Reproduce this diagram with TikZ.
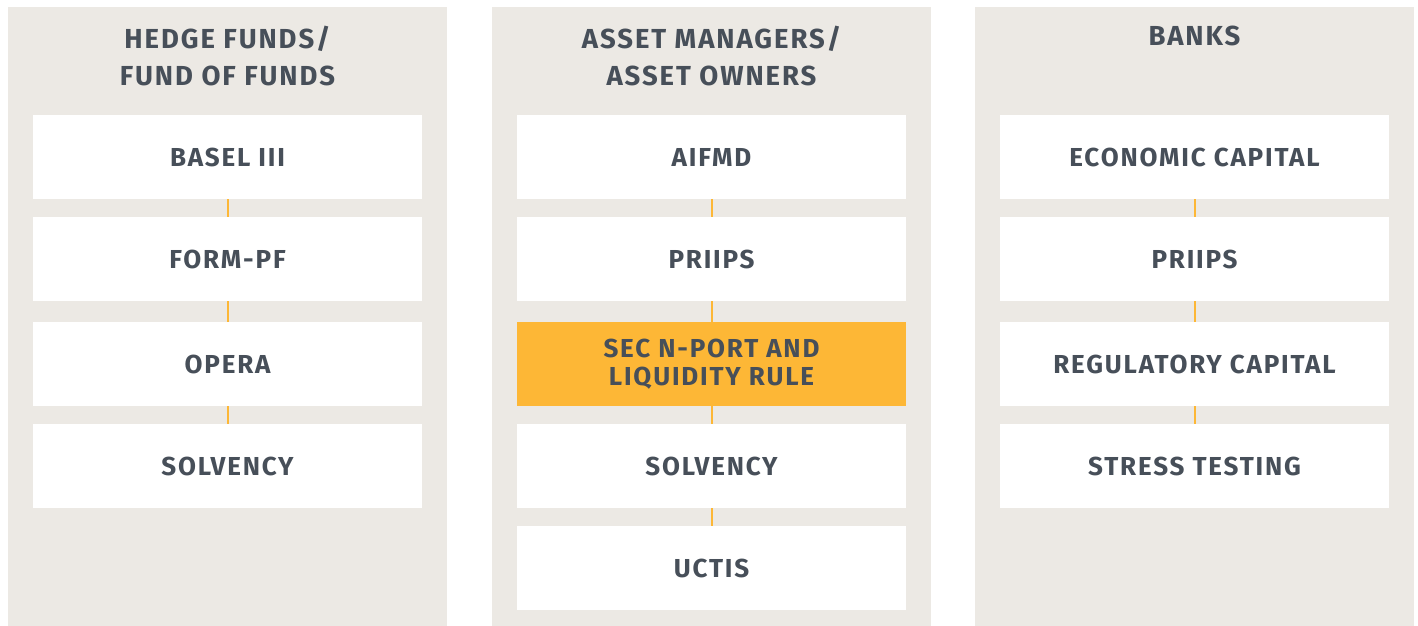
\documentclass[tikz,border=0pt]{standalone}
\usepackage{fontspec}
\newfontfamily\labelfont{Fira Sans}[LetterSpace=7.0]
\definecolor{panelbg}{HTML}{ECE9E4}
\definecolor{inkgrey}{HTML}{474F59}
\definecolor{accent}{HTML}{FDB736}
\begin{document}
\begin{tikzpicture}[x=1pt,y=-1pt,
  panel/.style={fill=panelbg, draw=none},
  title/.style={text=inkgrey, font=\labelfont\bfseries\fontsize{27.5}{37}\selectfont, align=center, anchor=north},
  item/.style={fill=white, draw=none, minimum width=389pt, minimum height=84pt, inner sep=0pt,
    text=inkgrey, font=\labelfont\bfseries\fontsize{26}{28.5}\selectfont, align=center},
  itemhi/.style={item, fill=accent},
  conn/.style={draw=accent, line width=2pt}]
\useasboundingbox (0,0) rectangle (1418,626);
\fill[white] (0,0) rectangle (1418,626);

% three column backgrounds
\fill[panel] (8,7) rectangle (447,626);
\fill[panel] (492,7) rectangle (931,626);
\fill[panel] (975,7) rectangle (1414,626);

% column headings
\node[title] (t1) at (227.5,22.5) {HEDGE FUNDS/\\FUND OF FUNDS};
\node[title] (t2) at (711.5,22.5) {ASSET MANAGERS/\\ASSET OWNERS};
\node[title] (t3) at (1194.5,22.5) {BANKS};

% hedge funds / fund of funds
\node[item] (a1) at (227.5,157) {BASEL III};
\node[item] (a2) at (227.5,259) {FORM-PF};
\node[item] (a3) at (227.5,364) {OPERA};
\node[item] (a4) at (227.5,466) {SOLVENCY};

% asset managers / asset owners
\node[item] (b1) at (711.5,157) {AIFMD};
\node[item] (b2) at (711.5,259) {PRIIPS};
\node[itemhi] (b3) at (711.5,364) {SEC N-PORT AND\\LIQUIDITY RULE};
\node[item] (b4) at (711.5,466) {SOLVENCY};
\node[item] (b5) at (711.5,568) {UCTIS};

% banks
\node[item] (c1) at (1194.5,157) {ECONOMIC CAPITAL};
\node[item] (c2) at (1194.5,259) {PRIIPS};
\node[item] (c3) at (1194.5,364) {REGULATORY CAPITAL};
\node[item] (c4) at (1194.5,466) {STRESS TESTING};

% links between stacked items
\foreach \p in {a,c}{
  \draw[conn] (\p1.south) -- (\p2.north);
  \draw[conn] (\p2.south) -- (\p3.north);
  \draw[conn] (\p3.south) -- (\p4.north);
}
\draw[conn] (b1.south) -- (b2.north);
\draw[conn] (b2.south) -- (b3.north);
\draw[conn] (b3.south) -- (b4.north);
\draw[conn] (b4.south) -- (b5.north);
\end{tikzpicture}
\end{document}
